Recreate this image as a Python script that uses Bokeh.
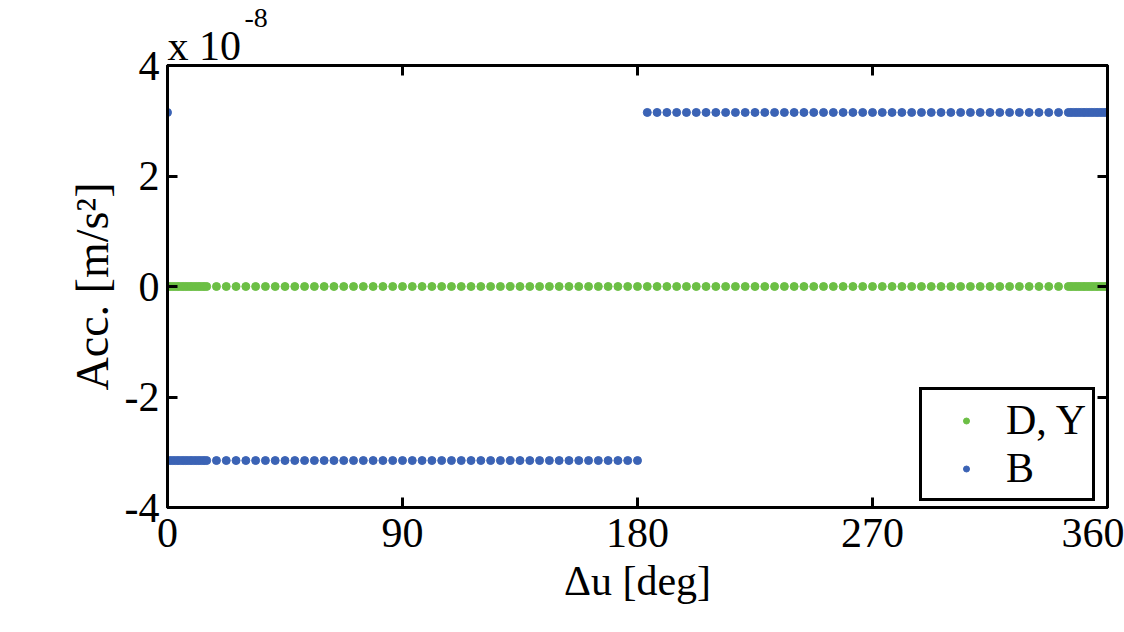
from bokeh.plotting import figure
from bokeh.models import (Range1d, LinearAxis, FixedTicker, Legend, LegendItem, Label,
                          ColumnDataSource)
from bokeh.embed import file_html
from bokeh.resources import INLINE

# ---- data (acceleration in units of 1e-8 m/s^2) ----
du_fine_start = [0, 1, 2, 3, 4, 5, 6, 7, 8, 9, 10, 11, 12, 13, 14, 15]
du_coarse_1 = [18.75, 22.5, 26.25, 30, 33.75, 37.5, 41.25, 45, 48.75, 52.5, 56.25, 60,
               63.75, 67.5, 71.25, 75, 78.75, 82.5, 86.25, 90, 93.75, 97.5, 101.25, 105,
               108.75, 112.5, 116.25, 120, 123.75, 127.5, 131.25, 135, 138.75, 142.5,
               146.25, 150, 153.75, 157.5, 161.25, 165, 168.75, 172.5, 176.25, 180]
du_coarse_2 = [183.75, 187.5, 191.25, 195, 198.75, 202.5, 206.25, 210, 213.75, 217.5,
               221.25, 225, 228.75, 232.5, 236.25, 240, 243.75, 247.5, 251.25, 255,
               258.75, 262.5, 266.25, 270, 273.75, 277.5, 281.25, 285, 288.75, 292.5,
               296.25, 300, 303.75, 307.5, 311.25, 315, 318.75, 322.5, 326.25, 330,
               333.75, 337.5, 341.25]
du_fine_end = [345, 346, 347, 348, 349, 350, 351, 352, 353, 354, 355, 356, 357, 358, 359, 360]

dy_value = 0.0          # D and Y components
b_neg_value = -3.15     # B component for 0 < du <= 180
b_pos_value = 3.15      # B component for du = 0 and 180 < du <= 360

du_all = du_fine_start + du_coarse_1 + du_coarse_2 + du_fine_end
b_neg_du = du_fine_start[1:] + du_coarse_1
b_pos_du = [du_fine_start[0]] + du_coarse_2 + du_fine_end

x_ticks = [0, 90, 180, 270, 360]
y_ticks = [-4, -2, 0, 2, 4]
y_tick_labels = ["-4", "-2", "0", "2", "4"]

GREEN = "#6CBF45"
BLUE = "#3B63B5"
FONT = "Liberation Serif"

p = figure(width=1124, height=632, output_backend="svg", toolbar_location=None,
           x_range=Range1d(0, 360), y_range=Range1d(-4, 4),
           min_border_left=167, min_border_right=17, min_border_top=65,
           min_border_bottom=125, background_fill_color="white",
           border_fill_color="white")
p.grid.visible = False
p.outline_line_color = "black"
p.outline_line_width = 3
p.outline_line_alpha = 1
p.title.visible = False

src_dy = ColumnDataSource(dict(x=du_all, y=[dy_value] * len(du_all)))
src_bn = ColumnDataSource(dict(x=b_neg_du, y=[b_neg_value] * len(b_neg_du)))
src_bp = ColumnDataSource(dict(x=b_pos_du, y=[b_pos_value] * len(b_pos_du)))

r_dy = p.scatter("x", "y", source=src_dy, marker="circle", size=8,
                 fill_color=GREEN, line_color=GREEN)
r_bn = p.scatter("x", "y", source=src_bn, marker="circle", size=8,
                 fill_color=BLUE, line_color=BLUE)
r_bp = p.scatter("x", "y", source=src_bp, marker="circle", size=8,
                 fill_color=BLUE, line_color=BLUE)


def style_axis(ax, ticks, labels, font_size="42px"):
    ax.ticker = FixedTicker(ticks=ticks)
    ax.axis_line_width = 3
    ax.axis_line_color = "black"
    ax.major_tick_in = 10
    ax.major_tick_out = 0
    ax.major_tick_line_width = 3
    ax.major_tick_line_color = "black"
    ax.minor_tick_in = 0
    ax.minor_tick_out = 0
    ax.major_label_text_font = FONT
    ax.major_label_text_font_size = font_size
    ax.major_label_text_color = "black"
    ax.major_label_overrides = {t: s for t, s in zip(ticks, labels)}


xa = p.xaxis[0]
ya = p.yaxis[0]
style_axis(xa, x_ticks, [str(t) for t in x_ticks])
style_axis(ya, y_ticks, y_tick_labels)
xa.major_label_standoff = 11
ya.major_label_standoff = 8
xa.axis_label = "Δu [deg]"
xa.axis_label_text_font = FONT
xa.axis_label_text_font_size = "42px"
xa.axis_label_text_font_style = "normal"
xa.axis_label_text_color = "black"
xa.axis_label_standoff = 8
ya.axis_label = "Acc. [m/s²]"
ya.axis_label_text_font = FONT
ya.axis_label_text_font_size = "46px"
ya.axis_label_text_font_style = "normal"
ya.axis_label_text_color = "black"
ya.axis_label_standoff = 4

# box axes (ticks only) on top and right
top_ax = LinearAxis()
style_axis(top_ax, x_ticks, ["" for _ in x_ticks], font_size="1px")
top_ax.major_label_standoff = 0
p.add_layout(top_ax, "above")
right_ax = LinearAxis()
style_axis(right_ax, y_ticks, ["" for _ in y_ticks], font_size="1px")
right_ax.major_label_standoff = 0
p.add_layout(right_ax, "right")

# scale factor "x 10^-8" above the top-left corner (anchored in data units)
p.add_layout(Label(x=0, y=4.36, x_units="data", y_units="data", text="x 10",
                   text_font=FONT, text_font_size="42px", text_baseline="alphabetic",
                   text_color="black"), "above")
p.add_layout(Label(x=29.5, y=4.86, x_units="data", y_units="data", text="-8",
                   text_font=FONT, text_font_size="28px", text_baseline="alphabetic",
                   text_color="black"), "above")

legend = Legend(items=[LegendItem(label="D, Y", renderers=[r_dy]),
                       LegendItem(label="B", renderers=[r_bn])],
                location=(752, 6), orientation="vertical",
                border_line_color="black", border_line_width=3, border_line_alpha=1,
                background_fill_color="white", background_fill_alpha=1,
                label_text_font=FONT, label_text_font_size="42px",
                label_text_color="black",
                glyph_width=76, glyph_height=15, label_height=45, label_standoff=2,
                padding=6, spacing=0, margin=0)
p.add_layout(legend, "center")

open("out.html", "w").write(file_html(p, INLINE))
